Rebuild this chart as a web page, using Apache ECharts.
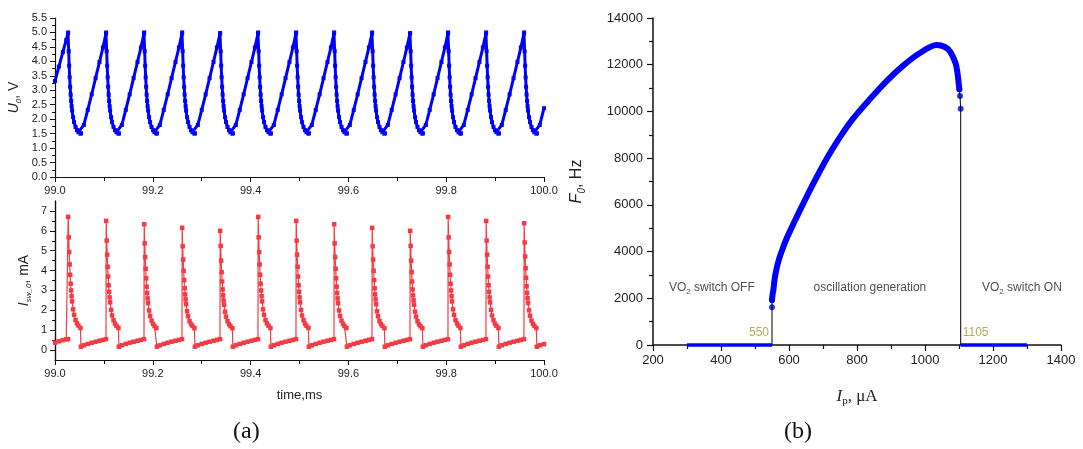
<!DOCTYPE html>
<html>
<head>
<meta charset="utf-8">
<script src="https://cdn.jsdelivr.net/npm/echarts@6/dist/echarts.min.js"></script>
<style>
  html, body { margin: 0; padding: 0; background: #fff; }
  #chart { width: 1083px; height: 449px; }
</style>
</head>
<body>
<div id="chart"></div>
<script>
// ---------- (a) relaxation oscillator: time traces ----------
// sample times, ms (one row per oscillation cycle)
const TIME_MS = [
  99.0000, 99.0080, 99.0160, 99.0230, 99.0266,
  99.0270, 99.0280, 99.0290, 99.0300, 99.0310, 99.0320, 99.0330, 99.0340, 99.0350, 99.0370, 99.0390, 99.0420, 99.0450, 99.0480, 99.0520, 99.0530, 99.0590, 99.0670, 99.0750, 99.0830, 99.0910, 99.0980, 99.1043,
  99.1047, 99.1057, 99.1067, 99.1077, 99.1087, 99.1097, 99.1107, 99.1117, 99.1127, 99.1147, 99.1167, 99.1197, 99.1227, 99.1257, 99.1297, 99.1307, 99.1367, 99.1447, 99.1527, 99.1607, 99.1687, 99.1757, 99.1820,
  99.1824, 99.1834, 99.1844, 99.1854, 99.1864, 99.1874, 99.1884, 99.1894, 99.1904, 99.1924, 99.1944, 99.1974, 99.2004, 99.2034, 99.2074, 99.2084, 99.2144, 99.2224, 99.2304, 99.2384, 99.2464, 99.2534, 99.2597,
  99.2601, 99.2611, 99.2621, 99.2631, 99.2641, 99.2651, 99.2661, 99.2671, 99.2681, 99.2701, 99.2721, 99.2751, 99.2781, 99.2811, 99.2851, 99.2861, 99.2921, 99.3001, 99.3081, 99.3161, 99.3241, 99.3311, 99.3374,
  99.3378, 99.3388, 99.3398, 99.3408, 99.3418, 99.3428, 99.3438, 99.3448, 99.3458, 99.3478, 99.3498, 99.3528, 99.3558, 99.3588, 99.3628, 99.3638, 99.3698, 99.3778, 99.3858, 99.3938, 99.4018, 99.4088, 99.4151,
  99.4155, 99.4165, 99.4175, 99.4185, 99.4195, 99.4205, 99.4215, 99.4225, 99.4235, 99.4255, 99.4275, 99.4305, 99.4335, 99.4365, 99.4405, 99.4415, 99.4475, 99.4555, 99.4635, 99.4715, 99.4795, 99.4865, 99.4928,
  99.4932, 99.4942, 99.4952, 99.4962, 99.4972, 99.4982, 99.4992, 99.5002, 99.5012, 99.5032, 99.5052, 99.5082, 99.5112, 99.5142, 99.5182, 99.5192, 99.5252, 99.5332, 99.5412, 99.5492, 99.5572, 99.5642, 99.5705,
  99.5709, 99.5719, 99.5729, 99.5739, 99.5749, 99.5759, 99.5769, 99.5779, 99.5789, 99.5809, 99.5829, 99.5859, 99.5889, 99.5919, 99.5959, 99.5969, 99.6029, 99.6109, 99.6189, 99.6269, 99.6349, 99.6419, 99.6482,
  99.6486, 99.6496, 99.6506, 99.6516, 99.6526, 99.6536, 99.6546, 99.6556, 99.6566, 99.6586, 99.6606, 99.6636, 99.6666, 99.6696, 99.6736, 99.6746, 99.6806, 99.6886, 99.6966, 99.7046, 99.7126, 99.7196, 99.7259,
  99.7263, 99.7273, 99.7283, 99.7293, 99.7303, 99.7313, 99.7323, 99.7333, 99.7343, 99.7363, 99.7383, 99.7413, 99.7443, 99.7473, 99.7513, 99.7523, 99.7583, 99.7663, 99.7743, 99.7823, 99.7903, 99.7973, 99.8036,
  99.8040, 99.8050, 99.8060, 99.8070, 99.8080, 99.8090, 99.8100, 99.8110, 99.8120, 99.8140, 99.8160, 99.8190, 99.8220, 99.8250, 99.8290, 99.8300, 99.8360, 99.8440, 99.8520, 99.8600, 99.8680, 99.8750, 99.8813,
  99.8817, 99.8827, 99.8837, 99.8847, 99.8857, 99.8867, 99.8877, 99.8887, 99.8897, 99.8917, 99.8937, 99.8967, 99.8997, 99.9027, 99.9067, 99.9077, 99.9137, 99.9217, 99.9297, 99.9377, 99.9457, 99.9527, 99.9590,
  99.9594, 99.9604, 99.9614, 99.9624, 99.9634, 99.9644, 99.9654, 99.9664, 99.9674, 99.9694, 99.9714, 99.9744, 99.9774, 99.9804, 99.9844, 99.9854, 99.9914, 100.0000
];

// oscillator output voltage U0, V
const U0_V = [
  3.32, 3.82, 4.32, 4.74, 4.97,
  5.00, 4.35, 3.85, 3.45, 3.12, 2.85, 2.63, 2.45, 2.30, 2.07, 1.90, 1.73, 1.62, 1.55, 1.50, 1.51, 1.80, 2.32, 2.86, 3.42, 3.98, 4.48, 4.96,
  5.00, 4.35, 3.85, 3.45, 3.12, 2.85, 2.63, 2.45, 2.30, 2.07, 1.90, 1.73, 1.62, 1.55, 1.50, 1.51, 1.80, 2.32, 2.86, 3.42, 3.98, 4.48, 4.96,
  5.00, 4.35, 3.85, 3.45, 3.12, 2.85, 2.63, 2.45, 2.30, 2.07, 1.90, 1.73, 1.62, 1.55, 1.50, 1.51, 1.80, 2.32, 2.86, 3.42, 3.98, 4.48, 4.96,
  5.00, 4.35, 3.85, 3.45, 3.12, 2.85, 2.63, 2.45, 2.30, 2.07, 1.90, 1.73, 1.62, 1.55, 1.50, 1.51, 1.80, 2.32, 2.86, 3.42, 3.98, 4.48, 4.96,
  4.98, 4.35, 3.85, 3.45, 3.12, 2.85, 2.63, 2.45, 2.30, 2.07, 1.90, 1.73, 1.62, 1.55, 1.50, 1.51, 1.80, 2.32, 2.86, 3.42, 3.98, 4.48, 4.96,
  5.00, 4.35, 3.85, 3.45, 3.12, 2.85, 2.63, 2.45, 2.30, 2.07, 1.90, 1.73, 1.62, 1.55, 1.50, 1.51, 1.80, 2.32, 2.86, 3.42, 3.98, 4.48, 4.96,
  5.00, 4.35, 3.85, 3.45, 3.12, 2.85, 2.63, 2.45, 2.30, 2.07, 1.90, 1.73, 1.62, 1.55, 1.50, 1.51, 1.80, 2.32, 2.86, 3.42, 3.98, 4.48, 4.96,
  5.00, 4.35, 3.85, 3.45, 3.12, 2.85, 2.63, 2.45, 2.30, 2.07, 1.90, 1.73, 1.62, 1.55, 1.50, 1.51, 1.80, 2.32, 2.86, 3.42, 3.98, 4.48, 4.96,
  5.00, 4.35, 3.85, 3.45, 3.12, 2.85, 2.63, 2.45, 2.30, 2.07, 1.90, 1.73, 1.62, 1.55, 1.50, 1.51, 1.80, 2.32, 2.86, 3.42, 3.98, 4.48, 4.96,
  4.98, 4.35, 3.85, 3.45, 3.12, 2.85, 2.63, 2.45, 2.30, 2.07, 1.90, 1.73, 1.62, 1.55, 1.50, 1.51, 1.80, 2.32, 2.86, 3.42, 3.98, 4.48, 4.96,
  5.00, 4.35, 3.85, 3.45, 3.12, 2.85, 2.63, 2.45, 2.30, 2.07, 1.90, 1.73, 1.62, 1.55, 1.50, 1.51, 1.80, 2.32, 2.86, 3.42, 3.98, 4.48, 4.96,
  5.00, 4.35, 3.85, 3.45, 3.12, 2.85, 2.63, 2.45, 2.30, 2.07, 1.90, 1.73, 1.62, 1.55, 1.50, 1.51, 1.80, 2.32, 2.86, 3.42, 3.98, 4.48, 4.96,
  5.00, 4.35, 3.85, 3.45, 3.12, 2.85, 2.63, 2.45, 2.30, 2.07, 1.90, 1.73, 1.62, 1.55, 1.50, 1.51, 1.80, 2.38
];

// current through the VO2 switch, mA
const ISW_MA = [
  0.37, 0.44, 0.50, 0.54, 0.55,
  6.70, 5.67, 4.93, 4.31, 3.79, 3.34, 3.00, 2.71, 2.45, 2.05, 1.77, 1.51, 1.34, 1.23, 1.11, 0.17, 0.24, 0.31, 0.37, 0.42, 0.47, 0.51, 0.55,
  6.50, 5.51, 4.80, 4.19, 3.70, 3.26, 2.93, 2.65, 2.40, 2.02, 1.74, 1.50, 1.33, 1.22, 1.11, 0.17, 0.24, 0.31, 0.37, 0.42, 0.47, 0.51, 0.55,
  6.33, 5.37, 4.68, 4.09, 3.61, 3.19, 2.87, 2.60, 2.36, 1.99, 1.72, 1.48, 1.32, 1.21, 1.11, 0.17, 0.24, 0.31, 0.37, 0.42, 0.47, 0.51, 0.55,
  6.15, 5.22, 4.55, 3.99, 3.52, 3.11, 2.80, 2.55, 2.31, 1.95, 1.70, 1.46, 1.31, 1.21, 1.10, 0.17, 0.24, 0.31, 0.37, 0.42, 0.47, 0.51, 0.55,
  6.00, 5.24, 4.50, 3.92, 3.45, 3.05, 2.75, 2.50, 2.28, 1.93, 1.68, 1.45, 1.30, 1.20, 1.10, 0.17, 0.24, 0.31, 0.37, 0.42, 0.47, 0.51, 0.55,
  6.70, 5.67, 4.93, 4.31, 3.79, 3.34, 3.00, 2.71, 2.45, 2.05, 1.77, 1.51, 1.34, 1.23, 1.11, 0.17, 0.24, 0.31, 0.37, 0.42, 0.47, 0.51, 0.55,
  6.50, 5.51, 4.80, 4.19, 3.70, 3.26, 2.93, 2.65, 2.40, 2.02, 1.74, 1.50, 1.33, 1.22, 1.11, 0.17, 0.24, 0.31, 0.37, 0.42, 0.47, 0.51, 0.55,
  6.33, 5.37, 4.68, 4.09, 3.61, 3.19, 2.87, 2.60, 2.36, 1.99, 1.72, 1.48, 1.32, 1.21, 1.11, 0.17, 0.24, 0.31, 0.37, 0.42, 0.47, 0.51, 0.55,
  6.15, 5.22, 4.55, 3.99, 3.52, 3.11, 2.80, 2.55, 2.31, 1.95, 1.70, 1.46, 1.31, 1.21, 1.10, 0.17, 0.24, 0.31, 0.37, 0.42, 0.47, 0.51, 0.55,
  6.00, 5.24, 4.50, 3.92, 3.45, 3.05, 2.75, 2.50, 2.28, 1.93, 1.68, 1.45, 1.30, 1.20, 1.10, 0.17, 0.24, 0.31, 0.37, 0.42, 0.47, 0.51, 0.55,
  6.70, 5.67, 4.93, 4.31, 3.79, 3.34, 3.00, 2.71, 2.45, 2.05, 1.77, 1.51, 1.34, 1.23, 1.11, 0.17, 0.24, 0.31, 0.37, 0.42, 0.47, 0.51, 0.55,
  6.50, 5.51, 4.80, 4.19, 3.70, 3.26, 2.93, 2.65, 2.40, 2.02, 1.74, 1.50, 1.33, 1.22, 1.11, 0.17, 0.24, 0.31, 0.37, 0.42, 0.47, 0.51, 0.55,
  6.38, 5.41, 4.71, 4.12, 3.64, 3.21, 2.88, 2.61, 2.37, 2.00, 1.73, 1.48, 1.32, 1.22, 1.11, 0.17, 0.24, 0.30
];

// ---------- (b) oscillation frequency vs supply current ----------
const IP_UA = [550, 550, 552, 554, 558, 564, 570, 578, 593, 618, 642, 671, 691, 715, 750, 789, 840, 887, 935, 985, 1034, 1060, 1075, 1090, 1095, 1098, 1101, 1103, 1105];
const F0_HZ = [1614, 1926, 2200, 2354, 2850, 3300, 3640, 3990, 4560, 5340, 6060, 6900, 7450, 8080, 8900, 9700, 10560, 11300, 11950, 12500, 12840, 12750, 12540, 12060, 11700, 11340, 10950, 10660, 10115];
const IP_OFF_UA = [300, 550];    // switch stays OFF: no oscillation
const IP_ON_UA = [1105, 1300];   // switch stays ON: no oscillation
const THRESHOLDS_UA = [550, 1105];

const REGION_LABELS = ['VO2 switch OFF', 'oscillation generation', 'VO2 switch ON'];

// ---------- build series data ----------
const zip = (xs, ys) => xs.map((x, i) => [x, ys[i]]);
const uData = zip(TIME_MS, U0_V);
const iData = zip(TIME_MS, ISW_MA);
const curveAll = zip(IP_UA, F0_HZ);
const HEAD = 2, TAIL = 3;                       // sparse samples right at the thresholds
const curveBand = curveAll.slice(HEAD - 1, curveAll.length - TAIL + 1);
const curveDots = curveAll.slice(0, HEAD).concat(curveAll.slice(curveAll.length - TAIL));
const jumpData = [[THRESHOLDS_UA[0], 0]]
  .concat(curveAll.slice(0, HEAD + 1))
  .concat([[THRESHOLDS_UA[0], '-']])
  .concat(curveAll.slice(curveAll.length - TAIL - 1))
  .concat([[THRESHOLDS_UA[1], 0]]);

const BLUE = '#0000ff';
const RED = '#f43a44';
const INK = '#111';
const SANS = 'Liberation Sans, Arial, sans-serif';
const SERIF = 'Liberation Serif, Times New Roman, serif';

const fmt1 = v => Number(v).toFixed(1);
const fmtPlain = v => String(v);

function timeAxis(gridIndex) {
  return {
    type: 'value', gridIndex, min: 99, max: 100, interval: 0.2,
    axisLine: { onZero: false, lineStyle: { color: INK, width: 1.2 } },
    axisTick: { show: true, length: 5, lineStyle: { color: INK } },
    minorTick: { show: true, splitNumber: 2, length: 4, lineStyle: { color: INK } },
    splitLine: { show: false },
    axisLabel: { formatter: fmt1, color: '#222', fontSize: 11, fontFamily: SANS, margin: 8 }
  };
}

const chart = echarts.init(document.getElementById('chart'), null, { renderer: 'canvas' });

const option = {
  animation: false,
  backgroundColor: '#fff',
  grid: [
    { left: 55, top: 18, width: 489, height: 159 },
    { left: 55, top: 201, width: 489, height: 159 },
    { left: 653, top: 18, width: 408, height: 327 }
  ],
  xAxis: [
    timeAxis(0),
    Object.assign(timeAxis(1), {
      name: 'time,ms', nameLocation: 'middle', nameGap: 29,
      nameTextStyle: { color: '#222', fontSize: 13, fontFamily: SANS }
    }),
    {
      type: 'value', gridIndex: 2, min: 200, max: 1400, interval: 200,
      axisLine: { onZero: false, lineStyle: { color: INK, width: 1.5 } },
      axisTick: { show: true, length: 6, lineStyle: { color: INK, width: 1.2 } },
      minorTick: { show: true, splitNumber: 2, length: 4, lineStyle: { color: INK, width: 1.2 } },
      splitLine: { show: false },
      axisLabel: { formatter: fmtPlain, color: '#222', fontSize: 13, fontFamily: SANS, margin: 9 },
      name: '{i|I}{s|p}{n|, μA}', nameLocation: 'middle', nameGap: 42,
      nameTextStyle: {
        rich: {
          i: { fontFamily: SERIF, fontStyle: 'italic', fontSize: 17, color: '#222', lineHeight: 20 },
          s: { fontFamily: SERIF, fontSize: 11, color: '#222', lineHeight: 8, verticalAlign: 'bottom' },
          n: { fontFamily: SERIF, fontSize: 17, color: '#222', lineHeight: 20 }
        }
      }
    }
  ],
  yAxis: [
    {
      type: 'value', gridIndex: 0, min: 0, max: 5.5, interval: 0.5,
      axisLine: { show: true, lineStyle: { color: INK, width: 1.2 } },
      axisTick: { show: true, length: 5, lineStyle: { color: INK } },
      minorTick: { show: true, splitNumber: 2, length: 3, lineStyle: { color: INK } },
      splitLine: { show: false },
      axisLabel: { formatter: fmt1, color: '#222', fontSize: 11, fontFamily: SANS, margin: 8 },
      name: '{i|U}{s|0}{n|, V}', nameLocation: 'middle', nameGap: 32, nameRotate: 90,
      nameTextStyle: {
        rich: {
          i: { fontFamily: SANS, fontStyle: 'italic', fontSize: 14, color: '#222', lineHeight: 18 },
          s: { fontFamily: SANS, fontStyle: 'italic', fontSize: 8, color: '#222', lineHeight: 6, verticalAlign: 'bottom' },
          n: { fontFamily: SANS, fontSize: 14, color: '#222', lineHeight: 18 }
        }
      }
    },
    {
      type: 'value', gridIndex: 1, position: 'left', min: -0.5, max: 7.5,
      axisLine: { show: true, lineStyle: { color: INK, width: 1.2 } },
      axisTick: { show: true, length: 5, lineStyle: { color: INK }, customValues: [0, 1, 2, 3, 4, 5, 6, 7] },
      splitLine: { show: false },
      axisLabel: { color: '#222', fontSize: 11, fontFamily: SANS, margin: 8, customValues: [0, 1, 2, 3, 4, 5, 6, 7] },
      name: '{i|I}{s|sw_0}{n|, mA}', nameLocation: 'middle', nameGap: 22, nameRotate: 90,
      nameTextStyle: {
        rich: {
          i: { fontFamily: SANS, fontStyle: 'italic', fontSize: 14, color: '#222', lineHeight: 18 },
          s: { fontFamily: SANS, fontStyle: 'italic', fontSize: 8, color: '#222', lineHeight: 6, verticalAlign: 'bottom' },
          n: { fontFamily: SANS, fontSize: 14, color: '#222', lineHeight: 18 }
        }
      }
    },
    {
      // half-step minor ticks of the current axis
      type: 'value', gridIndex: 1, position: 'left', offset: 0, min: -0.5, max: 7.5,
      axisLine: { show: true, lineStyle: { color: INK, width: 1.2 } },
      axisTick: { show: true, length: 3, lineStyle: { color: INK }, customValues: [0.5, 1.5, 2.5, 3.5, 4.5, 5.5, 6.5] },
      axisLabel: { show: false, customValues: [0.5, 1.5, 2.5, 3.5, 4.5, 5.5, 6.5] },
      splitLine: { show: false }
    },
    {
      type: 'value', gridIndex: 2, min: 0, max: 14000, interval: 2000,
      axisLine: { show: true, lineStyle: { color: INK, width: 1.5 } },
      axisTick: { show: true, length: 6, lineStyle: { color: INK, width: 1.2 } },
      minorTick: { show: true, splitNumber: 2, length: 4, lineStyle: { color: INK, width: 1.2 } },
      splitLine: { show: false },
      axisLabel: { formatter: fmtPlain, color: '#222', fontSize: 13, fontFamily: SANS, margin: 10 },
      name: '{i|F}{s|0}{n|, Hz}', nameLocation: 'middle', nameGap: 66, nameRotate: 90,
      nameTextStyle: {
        rich: {
          i: { fontFamily: SANS, fontStyle: 'italic', fontSize: 16, color: '#222', lineHeight: 20 },
          s: { fontFamily: SANS, fontStyle: 'italic', fontSize: 10, color: '#222', lineHeight: 7, verticalAlign: 'bottom' },
          n: { fontFamily: SANS, fontSize: 16, color: '#222', lineHeight: 20 }
        }
      }
    }
  ],
  series: [
    {
      name: 'U0', type: 'line', xAxisIndex: 0, yAxisIndex: 0, data: uData,
      showSymbol: true, showAllSymbol: true, symbol: 'rect', symbolSize: 4,
      itemStyle: { color: BLUE }, lineStyle: { color: BLUE, width: 3 },
      sampling: null
    },
    {
      name: 'Isw', type: 'line', xAxisIndex: 1, yAxisIndex: 1, data: iData,
      showSymbol: true, showAllSymbol: true, symbol: 'rect', symbolSize: 4.5,
      itemStyle: { color: RED }, lineStyle: { color: RED, width: 1.2 },
      sampling: null
    },
    {
      name: 'jumps', type: 'line', xAxisIndex: 2, yAxisIndex: 3, data: jumpData,
      showSymbol: false, connectNulls: false, clip: false,
      lineStyle: { color: '#000', width: 1 },
      markLine: {
        silent: true, symbol: 'none', label: { show: false },
        lineStyle: { color: '#000', type: 'dotted', width: 1 },
        data: THRESHOLDS_UA.map(t => [{ coord: [t, 0] }, { coord: [t, 14200] }])
      }
    },
    {
      name: 'off', type: 'line', xAxisIndex: 2, yAxisIndex: 3,
      data: IP_OFF_UA.map(x => [x, 0]), showSymbol: false, clip: false,
      lineStyle: { color: BLUE, width: 3.5 }
    },
    {
      name: 'on', type: 'line', xAxisIndex: 2, yAxisIndex: 3,
      data: IP_ON_UA.map(x => [x, 0]), showSymbol: false, clip: false,
      lineStyle: { color: BLUE, width: 3.5 }
    },
    {
      name: 'F0', type: 'line', xAxisIndex: 2, yAxisIndex: 3, data: curveBand,
      showSymbol: false, smooth: 0.3,
      lineStyle: { color: BLUE, width: 6, cap: 'round', join: 'round' }
    },
    {
      name: 'F0 edge', type: 'scatter', xAxisIndex: 2, yAxisIndex: 3, data: curveDots,
      symbol: 'circle', symbolSize: 6, itemStyle: { color: BLUE }
    },
    {
      name: 'notes', type: 'scatter', xAxisIndex: 2, yAxisIndex: 3, symbolSize: 0, silent: true,
      label: { show: true, fontFamily: SANS, fontSize: 12, color: '#222' },
      data: [
        { value: [373, 2440], label: { position: 'inside', formatter: '{t|VO}{s|2}{t| switch OFF}' } },
        { value: [838, 2440], label: { position: 'inside', formatter: REGION_LABELS[1] } },
        { value: [1285, 2440], label: { position: 'inside', formatter: '{t|VO}{s|2}{t| switch ON}' } },
        { value: [THRESHOLDS_UA[0], 514], label: { position: 'left', distance: 3, formatter: String(THRESHOLDS_UA[0]), color: '#9c9a2c' } },
        { value: [THRESHOLDS_UA[1], 514], label: { position: 'right', distance: 2, formatter: String(THRESHOLDS_UA[1]), color: '#9c9a2c' } }
      ]
    }
  ],
  graphic: [
    { type: 'text', left: 233, top: 420, style: { text: '(a)', font: '24px ' + SERIF, fill: '#111' } },
    { type: 'text', left: 784, top: 420, style: { text: '(b)', font: '24px ' + SERIF, fill: '#111' } }
  ]
};

// rich styles for the VO2 annotations
const noteRich = {
  t: { fontFamily: SANS, fontSize: 12, color: '#222', lineHeight: 16 },
  s: { fontFamily: SANS, fontSize: 8, color: '#222', lineHeight: 6, verticalAlign: 'bottom' }
};
option.series[7].data.forEach(d => { d.label.rich = noteRich; });

chart.setOption(option);
</script>
</body>
</html>
